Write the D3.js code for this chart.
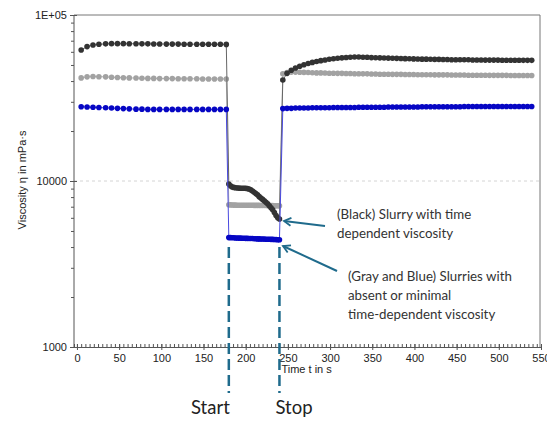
<!DOCTYPE html>
<html>
<head>
<meta charset="utf-8">
<script src="https://cdn.jsdelivr.net/npm/d3@7"></script>
<style>
  html, body { margin: 0; padding: 0; background: #fff; }
  svg { display: block; }
</style>
</head>
<body>
<svg id="chart"></svg>
<script>
// Viscosity step test: rest - high shear (start..stop) - rest

// times in s for the three phases
var times1 = [5, 12, 19, 26, 34, 41, 48, 55, 62, 70, 77, 84, 91, 98, 106, 113, 120, 127, 134, 142, 149, 156, 163, 170, 177];
var times2 = [180, 182, 184, 186, 188, 190, 192, 194, 196, 198, 200, 202, 204, 206, 208, 210, 212, 214, 216, 218, 220, 222, 224, 226, 228, 230, 232, 234, 236, 238, 240];
var times3 = [244, 249, 254, 259, 264, 269, 274, 279, 284, 289, 294, 299, 304, 309, 314, 319, 324, 329, 334, 339,
              344, 349, 354, 359, 364, 369, 374, 379, 384, 389, 394, 399, 404, 409, 414, 419, 424, 429, 434, 439,
              444, 449, 454, 459, 464, 469, 474, 479, 484, 489, 494, 499, 504, 509, 514, 519, 524, 529, 534, 539];

// viscosity in mPa·s
var black1 = [61500, 64500, 65900, 66600, 67000, 67200, 67200, 67200, 67100, 67100, 67000, 67000, 66900, 66900, 66800, 66800, 66800, 66700, 66700, 66700, 66600, 66600, 66600, 66600, 66500];
var gray1  = [41800, 42400, 42600, 42500, 42400, 42200, 42000, 41900, 41800, 41700, 41600, 41500, 41500, 41400, 41400, 41400, 41300, 41300, 41300, 41300, 41200, 41200, 41200, 41200, 41200];
var blue1  = [28000, 27900, 27800, 27700, 27600, 27500, 27400, 27300, 27200, 27100, 27100, 27000, 27000, 27000, 27000, 27000, 27000, 27000, 27000, 27000, 27000, 27000, 27000, 27000, 27000];

var black2 = [9600, 9350, 9200, 9150, 9100, 9080, 9060, 9050, 9050, 9040, 9030, 9000, 8950, 8850, 8700, 8550, 8400, 8250, 8050, 7900, 7750, 7600, 7450, 7300, 7100, 6900, 6700, 6450, 6200, 6000, 5900];
var gray2  = [7200, 7180, 7170, 7160, 7160, 7150, 7150, 7150, 7150, 7150, 7150, 7140, 7140, 7140, 7140, 7130, 7130, 7130, 7130, 7120, 7120, 7120, 7120, 7110, 7110, 7110, 7110, 7100, 7100, 7100, 7100];
var blue2  = [4560, 4560, 4550, 4550, 4540, 4540, 4530, 4530, 4520, 4520, 4510, 4510, 4500, 4500, 4500, 4490, 4490, 4480, 4480, 4470, 4470, 4470, 4460, 4460, 4460, 4450, 4450, 4440, 4440, 4430, 4430];

var black3 = [40600, 44500, 46500, 47900, 49100, 50200, 51000, 51800, 52500, 53100, 53600, 54100, 54500, 54900, 55200, 55500, 55700, 55800, 55800, 55700,
              55600, 55400, 55300, 55200, 55100, 55000, 54900, 54800, 54700, 54600, 54500, 54400, 54300, 54200, 54200, 54100, 54000, 54000, 53900, 53900,
              53800, 53800, 53700, 53700, 53700, 53600, 53600, 53600, 53500, 53500, 53500, 53500, 53400, 53400, 53400, 53400, 53400, 53300, 53300, 53300];
var gray3  = [44200, 45000, 45300, 45300, 45200, 45100, 45000, 44900, 44800, 44800, 44700, 44600, 44600, 44500, 44500, 44400, 44400, 44300, 44300, 44200,
              44200, 44100, 44100, 44000, 44000, 44000, 43900, 43900, 43900, 43800, 43800, 43800, 43700, 43700, 43700, 43700, 43600, 43600, 43600, 43600,
              43500, 43500, 43500, 43500, 43400, 43400, 43400, 43400, 43400, 43300, 43300, 43300, 43300, 43300, 43200, 43200, 43200, 43200, 43200, 43200];
var blue3  = [27300, 27400, 27400, 27500, 27500, 27500, 27500, 27600, 27600, 27600, 27600, 27600, 27700, 27700, 27700, 27700, 27700, 27700, 27800, 27800,
              27800, 27800, 27800, 27800, 27800, 27900, 27900, 27900, 27900, 27900, 27900, 27900, 27900, 28000, 28000, 28000, 28000, 28000, 28000, 28000,
              28000, 28000, 28000, 28100, 28100, 28100, 28100, 28100, 28100, 28100, 28100, 28100, 28100, 28100, 28100, 28100, 28100, 28100, 28100, 28100];

// axis ticks
var xMajor = [0, 50, 100, 150, 200, 250, 300, 350, 400, 450, 500, 550];
var yMajor = [1000, 10000, 100000];
var yLabels = ["1000", "10000", "1E+05"];
var yMinor = [2000, 3000, 4000, 5000, 6000, 7000, 8000, 9000, 20000, 30000, 40000, 50000, 60000, 70000, 80000, 90000];

// start / stop of the shear phase
var markers = [{t: 180, label: "Start", anchor: "end", dx: 1}, {t: 240, label: "Stop", anchor: "start", dx: -4}];

var series = [
  {name: "gray",  fill: "#a2a2a2", stroke: "#b0b0b0", values: gray1.concat(gray2, gray3)},
  {name: "black", fill: "#333333", stroke: "#666666", values: black1.concat(black2, black3)},
  {name: "blue",  fill: "#0606c4", stroke: "#4a4ae0", values: blue1.concat(blue2, blue3)}
];
var allTimes = times1.concat(times2, times3);

var svg = d3.select("#chart").attr("width", 547).attr("height", 423);

var x = d3.scaleLinear().domain([-3.5, 550]).range([74, 541]);
var y = d3.scaleLog().domain([1000, 100000]).range([347, 15]);

var axisColor = "#555";
var axisFont = "'Liberation Sans', Arial, sans-serif";
var noteFont = "Lato, 'Open Sans', sans-serif";

// dashed grid line at 10000
svg.append("line")
    .attr("x1", x.range()[0]).attr("x2", 540)
    .attr("y1", y(10000)).attr("y2", y(10000))
    .attr("stroke", "#d4d4d4")
    .attr("stroke-dasharray", "3,3");

// frame: top and right
svg.append("path")
    .attr("d", "M" + x.range()[0] + "," + y(100000) + "H540V" + y(1000))
    .attr("fill", "none")
    .attr("stroke", "#777")
    .attr("stroke-width", 1);

// x axis, minor ticks inside
svg.append("g")
    .attr("transform", "translate(0," + y(1000) + ")")
    .call(d3.axisBottom(x).tickValues(d3.range(0, 551, 5)).tickSize(-3).tickFormat(""))
    .call(function(g) { g.select(".domain").attr("stroke", axisColor); })
    .call(function(g) { g.selectAll(".tick line").attr("stroke", axisColor); });

// x axis, major ticks across the line
var gx = svg.append("g")
    .attr("transform", "translate(0," + y(1000) + ")")
    .call(d3.axisBottom(x).tickValues(xMajor).tickSize(3).tickPadding(4).tickFormat(d3.format("d")));
gx.select(".domain").remove();
gx.selectAll(".tick line").attr("y1", -3).attr("stroke", axisColor);
gx.selectAll(".tick text")
    .attr("fill", "#222")
    .style("font-family", axisFont)
    .style("font-size", "11px");

// y axis
var gy = svg.append("g")
    .attr("transform", "translate(" + x.range()[0] + ",0)")
    .call(d3.axisLeft(y).tickValues(yMajor).tickSize(4).tickPadding(3)
      .tickFormat(function(d, i) { return yLabels[i]; }));
gy.select(".domain").attr("stroke", axisColor).attr("d", "M0," + y(100000) + "V" + y(1000));
gy.selectAll(".tick line").attr("x2", -4).attr("x1", 3).attr("stroke", axisColor);
gy.selectAll(".tick text")
    .attr("fill", "#222")
    .style("font-family", axisFont)
    .style("font-size", "11px");

svg.append("g")
    .attr("transform", "translate(" + x.range()[0] + ",0)")
    .call(d3.axisLeft(y).tickValues(yMinor).tickSize(3).tickFormat(""))
    .call(function(g) { g.select(".domain").remove(); })
    .call(function(g) { g.selectAll(".tick line").attr("stroke", axisColor); });

// axis titles
svg.append("text")
    .attr("transform", "translate(26,180) rotate(-90)")
    .attr("text-anchor", "middle")
    .attr("fill", "#222")
    .style("font-family", axisFont)
    .style("font-size", "11px")
    .text("Viscosity η in mPa·s");

svg.append("text")
    .attr("x", x(240) + 2)
    .attr("y", 373)
    .attr("fill", "#222")
    .style("font-family", axisFont)
    .style("font-size", "11px")
    .text("Time t in s");

// series: thin connecting line plus round markers
var line = d3.line()
    .x(function(d) { return x(d.t); })
    .y(function(d) { return y(d.v); });

series.forEach(function(s) {
    var pts = allTimes.map(function(t, i) { return {t: t, v: s.values[i]}; });
    var g = svg.append("g").attr("class", "series-" + s.name);
    g.append("path")
        .attr("d", line(pts))
        .attr("fill", "none")
        .attr("stroke", s.stroke)
        .attr("stroke-width", 1);
    g.selectAll("circle")
        .data(pts)
        .enter()
        .append("circle")
          .attr("cx", function(d) { return x(d.t); })
          .attr("cy", function(d) { return y(d.v); })
          .attr("r", 2.8)
          .attr("fill", s.fill);
});

// start / stop dashed markers
var teal = "#1f6b8c";
markers.forEach(function(m) {
    svg.append("line")
        .attr("x1", x(m.t)).attr("x2", x(m.t))
        .attr("y1", 247).attr("y2", 393)
        .attr("stroke", teal)
        .attr("stroke-width", 2.5)
        .attr("stroke-dasharray", "11,5");
    svg.append("text")
        .attr("x", x(m.t) + m.dx)
        .attr("y", 414)
        .attr("text-anchor", m.anchor)
        .attr("fill", "#222")
        .style("font-family", noteFont)
        .style("font-size", "18.5px")
        .text(m.label);
});

// annotation arrows (open chevron heads)
svg.append("defs").append("marker")
    .attr("id", "arrowHead")
    .attr("viewBox", "0 0 10 10")
    .attr("refX", 8).attr("refY", 5)
    .attr("markerWidth", 5).attr("markerHeight", 5)
    .attr("orient", "auto")
    .append("path")
      .attr("d", "M1,1 L8,5 L1,9")
      .attr("fill", "none")
      .attr("stroke", teal)
      .attr("stroke-width", 1.8)
      .attr("stroke-linejoin", "miter");

var arrows = [
    {x1: 325, y1: 226, x2: 284, y2: 221},
    {x1: 337, y1: 271, x2: 283, y2: 246}
];
arrows.forEach(function(a) {
    svg.append("line")
        .attr("x1", a.x1).attr("y1", a.y1)
        .attr("x2", a.x2).attr("y2", a.y2)
        .attr("stroke", teal)
        .attr("stroke-width", 2)
        .attr("marker-end", "url(#arrowHead)");
});

// annotation texts
var notes = [
    {x: 337, y: 219, lines: ["(Black) Slurry with time", "dependent viscosity"]},
    {x: 348, y: 281, lines: ["(Gray and Blue) Slurries with", "absent or minimal", "time-dependent viscosity"]}
];
notes.forEach(function(n) {
    var t = svg.append("text")
        .attr("fill", "#333")
        .style("font-family", noteFont)
        .style("font-size", "13.3px");
    n.lines.forEach(function(l, i) {
        t.append("tspan").attr("x", n.x).attr("y", n.y + i * 19).text(l);
    });
});
</script>
</body>
</html>
